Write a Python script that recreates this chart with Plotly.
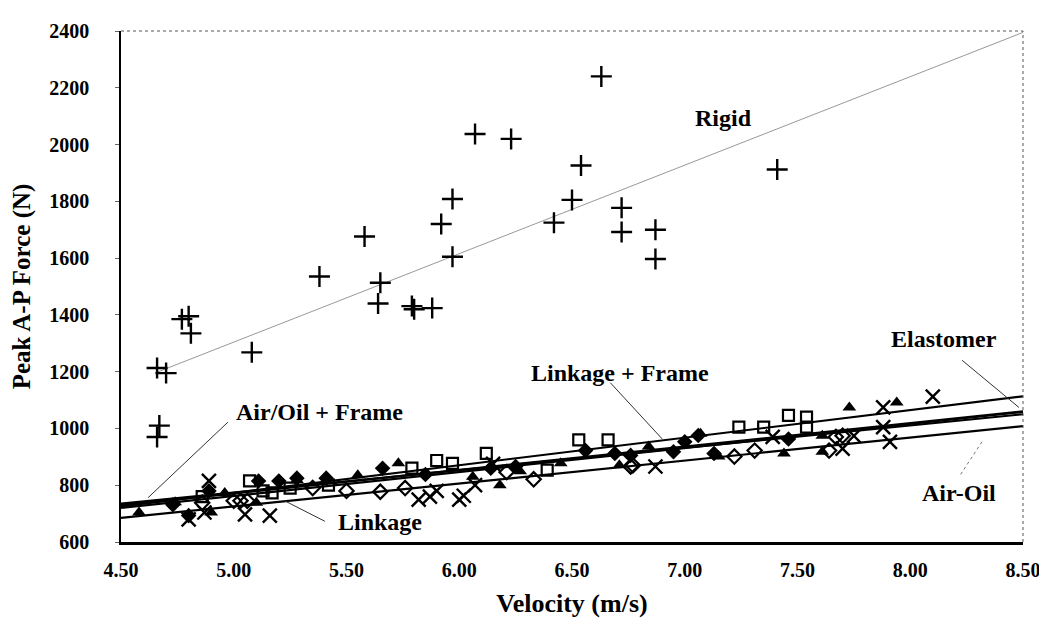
import plotly.graph_objects as go

# ---------------- data ----------------
rigid_x = [4.66, 4.70, 4.67, 4.66, 4.77, 4.80, 4.81, 5.08, 5.38, 5.58, 5.64, 5.65, 5.79, 5.80, 5.88,
           5.92, 5.97, 5.97, 6.07, 6.23, 6.42, 6.50, 6.54, 6.63, 6.72, 6.72, 6.87, 6.87, 7.41]
rigid_y = [1213, 1195, 1010, 970, 1385, 1395, 1335, 1268, 1535, 1676, 1440, 1513, 1431, 1420, 1424,
           1720, 1808, 1605, 2037, 2020, 1725, 1805, 1926, 2240, 1777, 1692, 1700, 1597, 1912]

lf_x = [4.86, 5.07, 5.13, 5.17, 5.25, 5.42, 5.79, 5.90, 5.97, 6.12, 6.39, 6.53, 6.66, 7.24, 7.35,
        7.46, 7.54, 7.54]
lf_y = [760, 815, 780, 773, 790, 800, 860, 887, 877, 912, 853, 960, 960, 1005, 1005,
        1046, 1040, 1005]

el_x = [4.58, 4.74, 4.90, 4.96, 5.10, 5.28, 5.55, 5.73, 6.06, 6.18, 6.27, 6.45, 6.71, 6.84, 7.07,
        7.15, 7.44, 7.61, 7.61, 7.73, 7.94]
el_y = [704, 740, 704, 773, 738, 818, 835, 877, 830, 800, 849, 877, 870, 936, 981,
        901, 912, 974, 918, 1074, 1091]

aof_x = [4.73, 4.80, 4.89, 5.11, 5.20, 5.28, 5.41, 5.66, 5.85, 6.14, 6.25, 6.56, 6.69, 6.76, 6.95,
         7.00, 7.06, 7.13, 7.46]
aof_y = [731, 693, 780, 815, 815, 825, 825, 860, 838, 860, 866, 922, 912, 905, 918,
         953, 975, 912, 963]

lk_x = [4.86, 5.00, 5.03, 5.06, 5.35, 5.50, 5.65, 5.76, 6.21, 6.33, 6.76, 6.77, 7.22, 7.31, 7.64,
        7.67, 7.70]
lk_y = [738, 745, 745, 745, 790, 780, 777, 790, 846, 821, 866, 870, 901, 922, 922,
        970, 974]

ao_x = [4.80, 4.87, 4.89, 5.05, 5.16, 5.82, 5.87, 5.90, 6.00, 6.02, 6.07, 6.15, 6.87, 7.39, 7.70,
        7.75, 7.88, 7.88, 7.91, 8.10]
ao_y = [680, 704, 815, 697, 693, 749, 760, 780, 749, 763, 800, 875, 866, 970, 929,
        974, 1074, 1005, 953, 1112]

# trend lines (value at start x and at end x)
trend_names = ["Linkage + Frame", "Elastomer", "Linkage", "Air/Oil + Frame", "Air-Oil"]
trend_x0 = [4.5, 4.5, 4.5, 4.5, 4.5]
trend_x1 = [8.5, 8.5, 8.5, 8.5, 8.5]
trend_y0 = [725, 730, 720, 735, 685]
trend_y1 = [1113, 1060, 1058, 1050, 1008]
rigid_trend_x = [4.65, 8.5]
rigid_trend_y = [1195, 2395]

x_ticks = [4.5, 5.0, 5.5, 6.0, 6.5, 7.0, 7.5, 8.0, 8.5]
x_tick_text = ["4.50", "5.00", "5.50", "6.00", "6.50", "7.00", "7.50", "8.00", "8.50"]
y_ticks = [600, 800, 1000, 1200, 1400, 1600, 1800, 2000, 2200, 2400]

FONT = "Liberation Serif"

fig = go.Figure()

# trend lines
fig.add_trace(go.Scatter(x=rigid_trend_x, y=rigid_trend_y, mode="lines",
                         line=dict(color="#999999", width=1), hoverinfo="skip", showlegend=False))
for n, a0, a1, b0, b1 in zip(trend_names, trend_x0, trend_x1, trend_y0, trend_y1):
    fig.add_trace(go.Scatter(x=[a0, a1], y=[b0, b1], mode="lines", name=n,
                             line=dict(color="black", width=2.2), showlegend=False))

def pts(x, y, sym, size, lw, name):
    fig.add_trace(go.Scatter(x=x, y=y, mode="markers", name=name, showlegend=False,
                             marker=dict(symbol=sym, size=size, color="black",
                                         line=dict(color="black", width=lw))))

pts(rigid_x, rigid_y, "cross-thin-open", 15, 2.4, "Rigid")
pts(lf_x, lf_y, "square-open", 11, 2.2, "Linkage + Frame")
pts(el_x, el_y, "triangle-up", 12, 0, "Elastomer")
pts(aof_x, aof_y, "diamond", 12, 0, "Air/Oil + Frame")
pts(lk_x, lk_y, "diamond-open", 11, 2.2, "Linkage")
pts(ao_x, ao_y, "x-thin-open", 14, 2.4, "Air-Oil")

lab_font = dict(family=FONT, size=24, color="black")

def label(text, x, y):
    fig.add_annotation(x=x, y=y, text="<b>" + text + "</b>", showarrow=False, font=lab_font,
                       xref="x", yref="y")

def leader(x0, y0, x1, y1, dash="solid", color="#333333"):
    fig.add_shape(type="line", x0=x0, y0=y0, x1=x1, y1=y1, xref="x", yref="y",
                  line=dict(color=color, width=1, dash=dash))

label("Rigid", 7.17, 2095)
label("Air/Oil + Frame", 5.38, 1057)
leader(4.974, 1022, 4.62, 756)
label("Linkage", 5.647, 669)
leader(5.226, 745, 5.404, 673)
label("Linkage + Frame", 6.715, 1195)
leader(6.67, 1161, 6.90, 963)
label("Elastomer", 8.15, 1316)
leader(8.23, 1240, 8.482, 1074)
label("Air-Oil", 8.216, 773)
leader(8.318, 953, 8.221, 835, dash="dot", color="#777777")

# dotted top/right border
fig.add_shape(type="line", xref="paper", yref="paper", x0=0, y0=1, x1=1, y1=1,
              line=dict(color="#555555", width=1, dash="dot"))
fig.add_shape(type="line", xref="paper", yref="paper", x0=1, y0=0, x1=1, y1=1,
              line=dict(color="#555555", width=1, dash="dot"))

fig.update_layout(
    width=1047, height=622,
    margin=dict(l=110, r=32, t=12, b=88),
    paper_bgcolor="white", plot_bgcolor="white",
    font=dict(family=FONT, color="black"),
    showlegend=False,
    xaxis=dict(range=[4.5, 8.5], tickvals=x_ticks, ticktext=x_tick_text,
               showgrid=False, zeroline=False, showline=True, linecolor="black", linewidth=3,
               ticks="", tickfont=dict(family=FONT, size=20, color="black", weight="bold"),
               ticklabelstandoff=8,
               title=dict(text="<b>Velocity (m/s)</b>", font=dict(family=FONT, size=26), standoff=14)),
    yaxis=dict(range=[600, 2400], tickvals=y_ticks,
               showgrid=False, zeroline=False, showline=True, linecolor="black", linewidth=1.5,
               ticks="outside", ticklen=4, tickcolor="#666666",
               tickfont=dict(family=FONT, size=20, color="black", weight="bold"),
               ticklabelstandoff=22,
               title=dict(text="<b>Peak A-P Force (N)</b>", font=dict(family=FONT, size=25), standoff=12)),
)

fig.write_html("out.html")
